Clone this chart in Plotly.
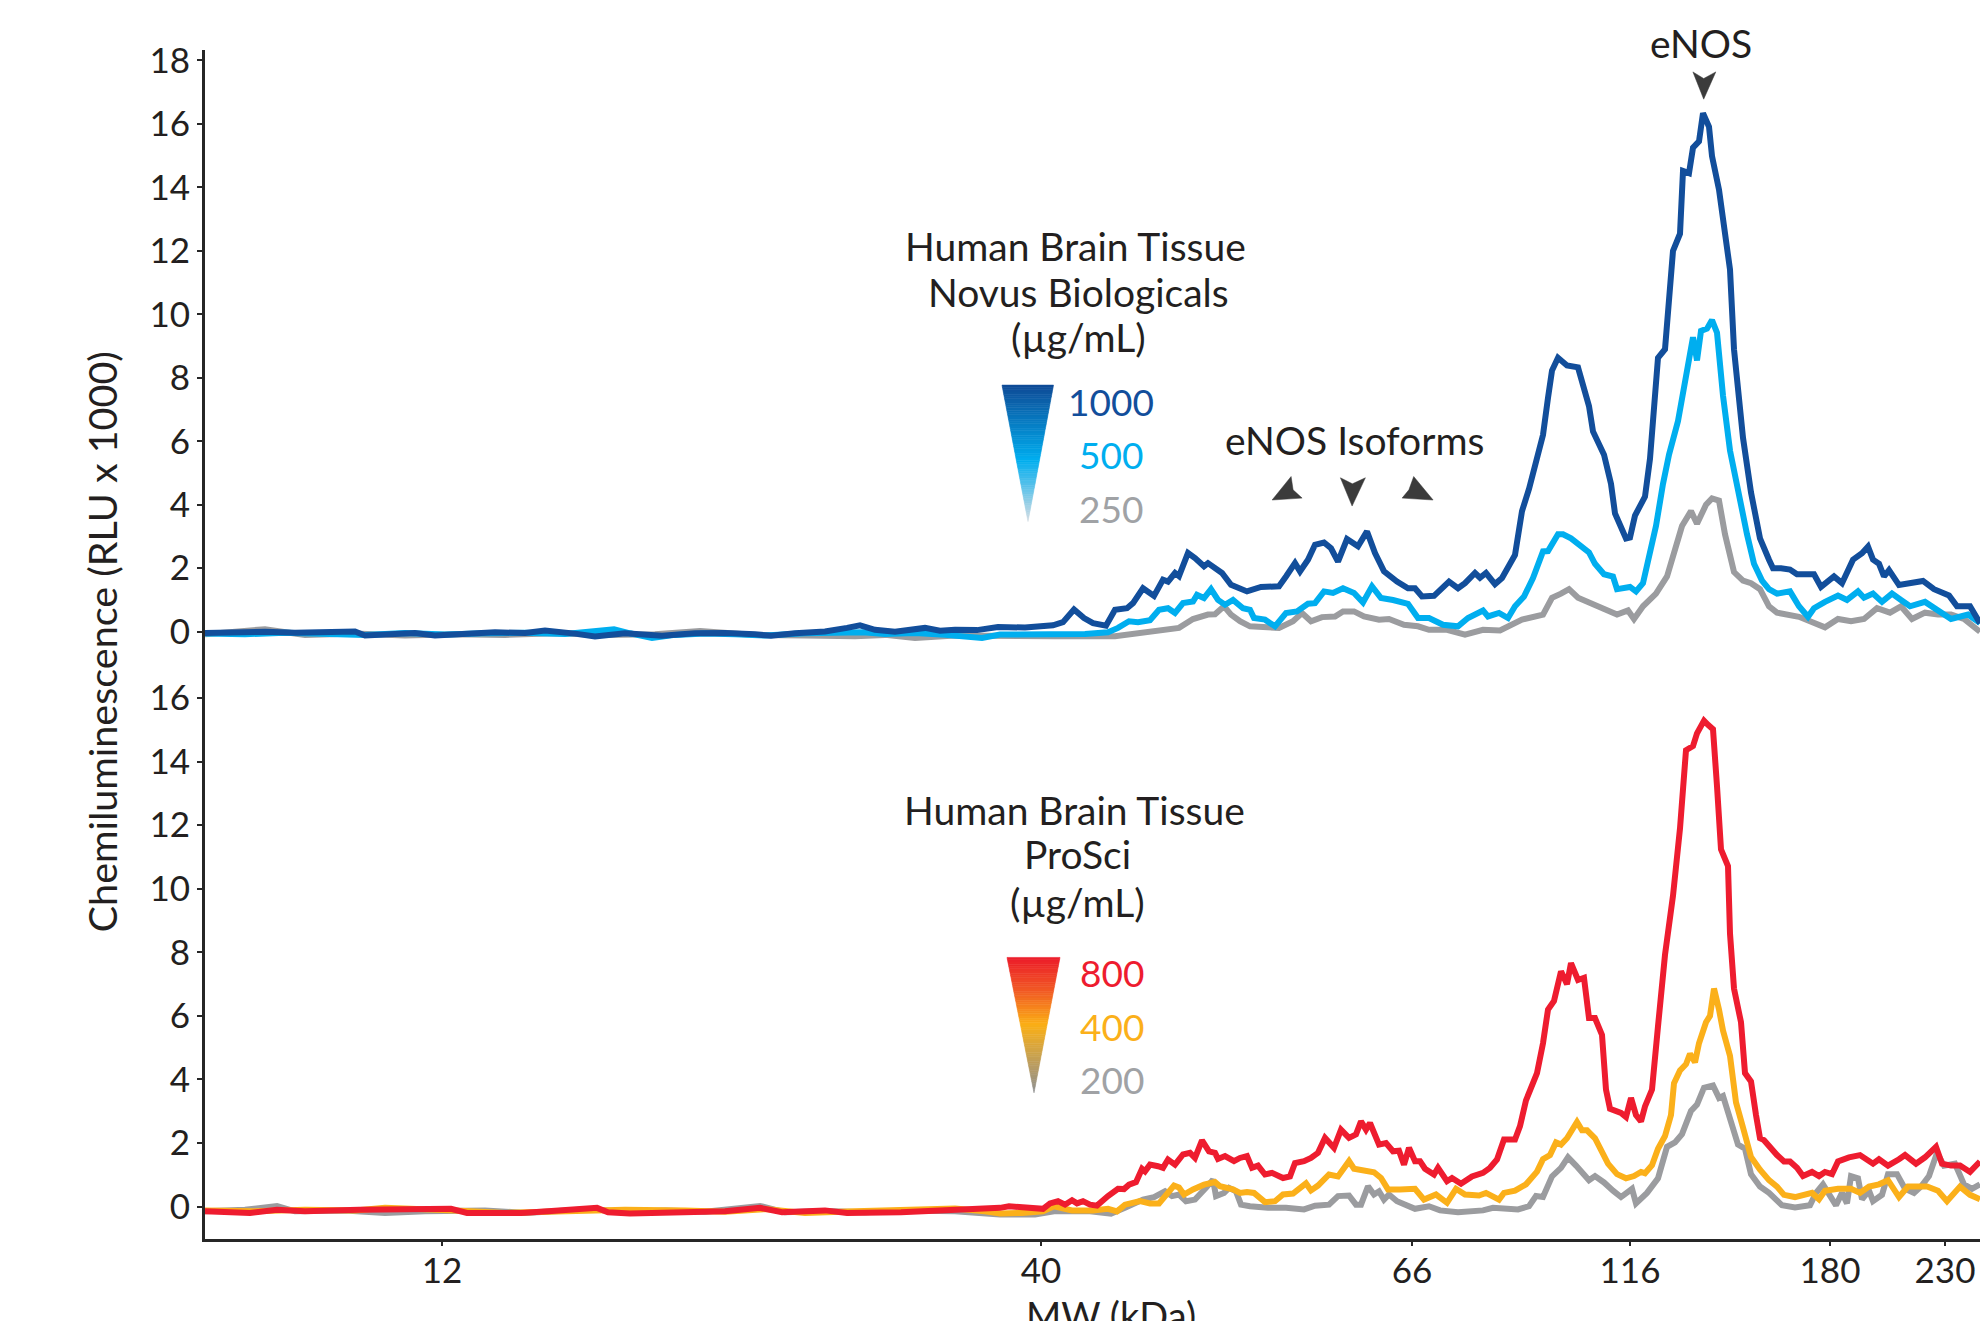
import plotly.graph_objects as go

# ---------------- data (position along capillary, signal in RLU x 1000) ----------------
tick_pos = [23.7, 83.6, 120.7, 142.5, 162.5, 174.0]
tick_lbl = ["12", "40", "66", "116", "180", "230"]

# Top panel: Novus Biologicals
nb1000_x = [0, 3, 6, 9, 12, 15, 16, 19, 21, 23, 26, 29, 32, 34, 37, 39, 42, 45.7, 49, 52, 55, 56.6, 59, 62,
            64.2, 65.5, 67, 69, 72, 73.5, 75, 77.2, 79.3, 82, 84.8, 85.8, 86.9, 87.9, 88.8, 90.1, 91.0, 92.2,
            92.8, 93.8, 94.9, 95.8, 96.3, 97.0, 97.4, 98.3, 99.0, 99.9, 100.3, 101.0, 101.7, 102.6, 104.2,
            105.6, 107.4, 108.1, 109.0, 109.5, 110.3, 111.0, 111.9, 112.6, 113.3, 114.2, 115.3, 116.2, 117.0,
            117.9, 119.2, 120.3, 121.0, 121.7, 122.9, 124.4, 125.3, 126.0, 127.0, 127.5, 128.1, 129.0, 129.7,
            131.0, 131.7, 132.4, 133.1, 133.8, 134.3, 134.7, 135.3, 136.2, 137.3, 138.4, 138.8, 139.9, 140.6,
            141.0, 142.1, 142.5, 143.0, 144.0, 144.5, 145.3, 146.0, 146.4, 146.8, 147.5, 147.8, 148.4, 148.8,
            149.4, 149.8, 150.4, 150.7, 151.4, 151.8, 152.5, 152.9, 153.8, 154.6, 155.5, 156.4, 156.8, 157.6,
            158.5, 159.2, 160.9, 161.6, 162.9, 163.7, 164.8, 165.7, 166.3, 166.8, 167.4, 167.9, 168.4, 169.4,
            170.7, 171.8, 172.9, 174.4, 175.2, 176.5, 177.5]
nb1000_y = [-0.04, -0.02, 0.0, -0.03, 0.0, 0.01, -0.12, -0.05, -0.04, -0.12, -0.05, -0.02, -0.04, 0.04, -0.06,
            -0.15, -0.05, -0.13, -0.05, -0.04, -0.08, -0.13, -0.05, 0.01, 0.12, 0.2, 0.06, 0.0, 0.12, 0.03, 0.06,
            0.05, 0.15, 0.13, 0.2, 0.3, 0.7, 0.43, 0.27, 0.19, 0.69, 0.74, 0.9, 1.37, 1.13, 1.64, 1.58, 1.85,
            1.75, 2.48, 2.32, 2.06, 2.16, 2.0, 1.85, 1.48, 1.27, 1.41, 1.43, 1.74, 2.16, 1.9, 2.27, 2.74, 2.81,
            2.63, 2.21, 2.92, 2.69, 3.16, 2.48, 1.9, 1.58, 1.37, 1.37, 1.11, 1.13, 1.58, 1.37, 1.53, 1.85, 1.7,
            1.85, 1.5, 1.69, 2.42, 3.8, 4.5, 5.3, 6.2, 7.37, 8.23, 8.63, 8.39, 8.33, 7.11, 6.31, 5.58, 4.66,
            3.73, 2.94, 2.97, 3.66, 4.26, 5.45, 8.63, 8.9, 10.62, 12.0, 12.54, 14.52, 14.45, 15.25, 15.45,
            16.34, 15.91, 14.99, 13.93, 13.0, 11.41, 8.9, 6.11, 4.39, 2.94, 2.27, 2.0, 2.0, 1.96, 1.81, 1.81,
            1.41, 1.74, 1.53, 2.27, 2.47, 2.68, 2.27, 2.14, 1.74, 1.94, 1.47, 1.53, 1.6, 1.34, 1.14, 0.8, 0.8,
            0.27]

nb500_x = [0, 4, 8, 12, 16, 20, 24, 28, 32, 36, 40.9, 42.5, 44.7, 47, 50, 53, 56, 60, 63, 65.8, 68, 71, 74,
           77.7, 79.5, 83, 86, 88, 90.3, 91.3, 92.4, 93.3, 94.5, 95.4, 96.3, 97.0, 97.8, 98.8, 99.2, 99.9,
           100.6, 101.3, 102.0, 102.8, 103.8, 104.5, 104.9, 106.0, 107.0, 108.1, 109.2, 110.3, 111.0, 111.9,
           112.8, 113.8, 114.9, 115.8, 116.7, 117.6, 118.8, 120.3, 121.3, 122.4, 123.8, 125.3, 126.3, 127.8,
           128.3, 129.4, 130.3, 131.0, 131.9, 132.8, 133.8, 134.3, 135.3, 135.8, 136.6, 137.7, 138.4, 139.0,
           139.9, 140.8, 141.2, 142.5, 143.1, 143.8, 144.2, 145.1, 145.8, 146.4, 147.3, 148.1, 148.8, 149.2,
           149.6, 150.2, 150.7, 151.2, 151.8, 152.5, 153.3, 154.2, 154.9, 155.7, 156.4, 157.2, 158.5, 159.4,
           160.3, 160.9, 162.0, 163.3, 164.2, 165.3, 165.9, 166.8, 167.7, 168.7, 169.6, 170.5, 172.0, 173.3,
           174.6, 176.3, 177.5]
nb500_y = [-0.06, -0.08, -0.03, -0.05, -0.1, -0.04, -0.09, -0.05, -0.03, -0.07, 0.08, -0.05, -0.2, -0.1,
           -0.06, -0.08, -0.12, -0.05, -0.03, -0.02, -0.07, -0.04, -0.1, -0.2, -0.09, -0.09, -0.08, -0.07,
           -0.02, 0.12, 0.33, 0.3, 0.36, 0.69, 0.74, 0.59, 0.9, 0.95, 1.16, 1.06, 1.34, 1.0, 0.85, 1.0, 0.74,
           0.69, 0.43, 0.38, 0.17, 0.59, 0.64, 0.88, 0.9, 1.27, 1.22, 1.37, 1.22, 0.92, 1.43, 1.06, 1.0, 0.88,
           0.43, 0.43, 0.22, 0.17, 0.43, 0.67, 0.48, 0.59, 0.43, 0.8, 1.11, 1.69, 2.53, 2.54, 3.07, 3.07, 2.94,
           2.67, 2.5, 2.14, 1.81, 1.74, 1.34, 1.41, 1.27, 1.53, 2.14, 3.33, 4.66, 5.58, 6.64, 7.96, 9.28, 8.55,
           9.48, 9.55, 9.82, 9.42, 7.44, 5.71, 4.39, 3.07, 2.14, 1.61, 1.34, 1.2, 1.27, 0.8, 0.47, 0.74, 0.94,
           1.14, 1.0, 1.27, 1.07, 1.2, 0.94, 1.2, 1.0, 0.8, 0.94, 0.67, 0.4, 0.54, 0.27]

nb250_x = [0, 6, 10, 15, 20, 25, 30, 35, 40, 45, 49.5, 55, 60, 65, 68, 71, 75, 79.5, 85, 91.0, 93.8, 95.5,
           97.4, 98.8, 100.3, 101.0, 101.9, 102.6, 103.5, 104.5, 106.0, 107.4, 108.8, 109.7, 110.6, 111.7,
           113.0, 113.8, 114.9, 115.9, 117.4, 118.4, 119.9, 121.3, 122.4, 124.2, 126.0, 127.8, 129.5, 131.7,
           133.8, 134.7, 135.6, 136.4, 137.3, 138.2, 139.5, 140.3, 141.2, 142.3, 142.9, 143.8, 145.1, 146.2,
           146.8, 147.7, 148.6, 149.2, 150.1, 150.7, 151.4, 152.0, 152.9, 153.8, 154.6, 155.5, 156.4, 157.2,
           159.4, 161.1, 162.0, 163.3, 164.6, 165.9, 167.2, 168.5, 169.6, 170.7, 172.0, 173.3, 174.6, 175.9,
           177.5]
nb250_y = [-0.08, 0.08, -0.1, -0.06, -0.12, -0.08, -0.1, -0.05, -0.1, -0.08, 0.02, -0.1, -0.12, -0.14, -0.1,
           -0.2, -0.12, -0.14, -0.14, -0.14, -0.04, 0.04, 0.12, 0.4, 0.54, 0.55, 0.8, 0.54, 0.33, 0.17, 0.15,
           0.12, 0.33, 0.59, 0.33, 0.46, 0.48, 0.64, 0.64, 0.48, 0.38, 0.4, 0.22, 0.17, 0.06, 0.06, -0.09, 0.06,
           0.04, 0.38, 0.54, 1.07, 1.2, 1.34, 1.07, 0.94, 0.8, 0.67, 0.54, 0.67, 0.4, 0.8, 1.2, 1.74, 2.41,
           3.33, 3.8, 3.4, 4.0, 4.2, 4.13, 3.07, 1.88, 1.61, 1.53, 1.34, 0.8, 0.6, 0.47, 0.27, 0.14, 0.4, 0.33,
           0.4, 0.74, 0.6, 0.8, 0.4, 0.6, 0.54, 0.54, 0.4, 0.0]

# Bottom panel: ProSci
ps800_x = [0, 4.5, 7.2, 10, 15.4, 20.8, 24.6, 26.2, 31.6, 34.3, 39.2, 40.3, 42.5, 47.9, 52, 55.5, 57.7, 62.0,
           64.2, 69.6, 75.0, 77.7, 79.5, 80.4, 81.7, 83.8, 84.5, 85.3, 86.0, 86.7, 87.2, 87.8, 88.5, 89.2, 90.3,
           91.3, 91.9, 92.4, 93.1, 93.7, 94.0, 94.5, 95.3, 95.8, 96.3, 97.0, 97.8, 98.5, 99.0, 99.7, 100.4,
           101.0, 101.3, 102.0, 102.9, 103.5, 104.2, 104.7, 105.3, 106.0, 106.7, 107.8, 108.5, 109.0, 109.9,
           110.6, 111.3, 112.0, 112.9, 113.6, 114.4, 115.1, 115.6, 116.1, 116.5, 117.4, 118.1, 118.8, 119.4,
           119.9, 120.4, 121.0, 121.5, 122.0, 122.9, 123.3, 124.2, 124.7, 125.6, 126.7, 127.8, 128.5, 129.2,
           129.9, 131.0, 131.5, 132.1, 133.2, 133.8, 134.3, 134.9, 135.6, 136.2, 136.6, 137.3, 137.9, 138.4,
           139.0, 139.7, 140.1, 140.5, 141.6, 142.1, 142.6, 143.1, 143.6, 144.0, 144.7, 145.3, 146.0, 146.8,
           147.5, 148.1, 148.8, 149.2, 149.9, 150.3, 150.8, 151.2, 151.6, 152.3, 152.5, 152.9, 153.6, 154.0,
           154.6, 155.1, 155.5, 155.9, 156.6, 157.2, 157.9, 158.5, 159.2, 159.8, 160.7, 161.4, 162.0, 162.7,
           163.3, 164.4, 165.5, 166.1, 166.8, 167.4, 168.3, 169.4, 170.0, 171.1, 172.0, 173.1, 173.7, 174.6,
           175.5, 176.5, 177.2, 177.5]
ps800_y = [-0.15, -0.2, -0.1, -0.15, -0.1, -0.1, -0.07, -0.2, -0.2, -0.15, -0.04, -0.18, -0.22, -0.18, -0.15,
           -0.04, -0.18, -0.12, -0.2, -0.18, -0.12, -0.1, -0.04, 0.01, -0.02, -0.07, 0.1, 0.17, 0.06, 0.2, 0.1,
           0.17, 0.06, 0.03, 0.33, 0.56, 0.55, 0.69, 0.77, 1.19, 1.11, 1.32, 1.27, 1.22, 1.48, 1.32, 1.64,
           1.69, 1.53, 2.08, 1.74, 1.69, 1.5, 1.59, 1.43, 1.53, 1.59, 1.22, 1.29, 1.01, 1.06, 0.9, 0.95, 1.37,
           1.43, 1.53, 1.69, 2.16, 1.85, 2.42, 2.16, 2.27, 2.68, 2.42, 2.63, 1.95, 2.0, 1.74, 1.76, 1.32, 1.85,
           1.43, 1.43, 1.19, 1.01, 1.22, 0.8, 0.9, 0.72, 0.95, 1.06, 1.22, 1.48, 2.11, 2.11, 2.53, 3.34, 4.2,
           5.14, 6.2, 6.47, 7.4, 7.0, 7.66, 7.13, 7.2, 5.93, 5.93, 5.4, 3.68, 3.08, 2.95, 2.82, 3.42, 2.88,
           2.68, 3.15, 3.68, 5.67, 7.92, 9.78, 11.9, 14.36, 14.49, 14.89, 15.29, 15.16, 15.02, 13.23, 11.24,
           10.71, 8.59, 6.86, 5.8, 4.2, 3.94, 2.88, 2.15, 2.09, 1.82, 1.62, 1.42, 1.42, 1.22, 0.96, 1.09, 0.96,
           1.09, 1.02, 1.42, 1.55, 1.62, 1.49, 1.35, 1.49, 1.29, 1.49, 1.62, 1.35, 1.55, 1.88, 1.35, 1.29, 1.29,
           1.09, 1.35, 1.42]

ps400_x = [0, 5, 10, 15, 18, 20, 25, 30, 33, 38, 42, 48, 52, 56, 60, 65, 70, 75, 78, 79.5, 81.7, 83.8, 84.9,
           86.7, 88.8, 90.3, 91.2, 92.0, 93.5, 94.5, 95.4, 96.3, 96.9, 97.4, 97.9, 98.8, 99.9, 101.0, 101.5,
           102.8, 103.5, 104.2, 104.9, 106.0, 107.0, 107.8, 108.8, 110.1, 110.6, 111.3, 112.4, 113.3, 114.4,
           114.9, 116.0, 116.9, 117.6, 118.3, 119.5, 121.0, 121.9, 123.1, 124.2, 125.1, 126.0, 127.4, 128.1,
           129.4, 129.9, 131.0, 132.1, 133.2, 133.8, 134.5, 135.1, 135.6, 136.2, 137.2, 137.7, 138.2, 139.0,
           139.7, 140.3, 141.2, 142.1, 142.9, 143.6, 144.0, 144.7, 145.3, 146.0, 146.6, 146.9, 147.5, 148.1,
           148.5, 149.0, 149.4, 150.1, 150.5, 150.9, 151.4, 151.8, 152.5, 153.1, 153.8, 154.6, 155.5, 156.4,
           157.2, 157.9, 159.0, 160.1, 160.7, 161.4, 162.0, 163.3, 164.6, 165.5, 166.4, 167.4, 168.3, 169.4,
           170.3, 171.1, 172.2, 173.3, 174.2, 175.5, 176.5, 177.5]
ps400_y = [-0.12, -0.15, -0.1, -0.12, -0.04, -0.05, -0.12, -0.2, -0.18, -0.12, -0.1, -0.12, -0.16, -0.08,
           -0.2, -0.15, -0.12, -0.06, -0.15, -0.22, -0.2, -0.15, 0.01, -0.12, -0.12, -0.07, -0.15, 0.06, 0.17,
           0.1, 0.1, 0.43, 0.66, 0.6, 0.38, 0.54, 0.69, 0.77, 0.64, 0.54, 0.43, 0.46, 0.43, 0.14, 0.17, 0.38,
           0.41, 0.73, 0.51, 0.66, 1.01, 0.95, 1.43, 1.19, 1.11, 1.08, 0.9, 0.54, 0.54, 0.56, 0.22, 0.38, 0.12,
           0.56, 0.38, 0.35, 0.43, 0.22, 0.43, 0.5, 0.7, 1.1, 1.49, 1.62, 2.02, 1.95, 2.15, 2.66, 2.4, 2.4, 2.15,
           1.75, 1.35, 1.02, 0.89, 0.96, 1.09, 1.05, 1.3, 1.82, 2.22, 2.88, 3.88, 4.28, 4.48, 4.81, 4.54, 5.14,
           5.8, 6.0, 6.86, 6.2, 5.54, 4.74, 3.28, 2.49, 1.56, 1.16, 0.83, 0.63, 0.37, 0.3, 0.37, 0.43, 0.23,
           0.5, 0.56, 0.56, 0.43, 0.63, 0.7, 0.83, 0.3, 0.63, 0.63, 0.63, 0.5, 0.17, 0.63, 0.37, 0.23]

ps200_x = [0, 4, 7.2, 9, 14, 18, 22, 28, 32, 36, 38.6, 42, 46, 50, 55.5, 58, 62, 66, 70, 75, 79.5, 83, 84.9,
           88.5, 90.6, 92.0, 93.8, 94.9, 96.0, 96.7, 97.4, 98.1, 99.0, 100.1, 100.8, 101.1, 101.9, 102.4,
           103.1, 103.6, 104.5, 106.3, 108.1, 109.9, 111.0, 112.4, 113.3, 114.4, 115.1, 115.6, 116.3, 116.9,
           117.4, 117.9, 118.4, 119.2, 119.9, 121.0, 122.4, 123.5, 125.3, 127.8, 128.8, 131.3, 132.4, 133.1,
           133.8, 134.7, 135.6, 136.3, 137.1, 137.7, 138.4, 139.0, 139.9, 140.8, 141.6, 142.7, 143.1, 144.2,
           145.3, 146.2, 147.0, 147.7, 148.6, 149.2, 149.9, 150.8, 151.4, 151.8, 152.5, 153.3, 154.0, 154.6,
           155.5, 156.4, 157.7, 159.0, 160.5, 161.1, 161.8, 162.4, 163.1, 163.7, 164.2, 164.6, 165.3, 165.7,
           166.4, 166.8, 167.7, 168.3, 169.2, 170.0, 170.9, 171.6, 172.4, 173.2, 173.9, 175.0, 175.9, 176.7,
           177.5]
ps200_y = [-0.15, -0.1, 0.02, -0.15, -0.12, -0.2, -0.15, -0.12, -0.2, -0.1, -0.08, -0.18, -0.12, -0.16, 0.02,
           -0.18, -0.14, -0.18, -0.12, -0.15, -0.25, -0.25, -0.15, -0.15, -0.22, -0.04, 0.22, 0.3, 0.48, 0.33,
           0.38, 0.17, 0.22, 0.59, 0.85, 0.33, 0.43, 0.59, 0.48, 0.06, 0.01, -0.04, -0.04, -0.09, 0.03, 0.06,
           0.33, 0.35, 0.06, 0.06, 0.64, 0.38, 0.48, 0.22, 0.38, 0.17, 0.06, -0.07, 0.01, -0.12, -0.18, -0.12,
           -0.04, -0.09, 0.01, 0.33, 0.3, 0.95, 1.22, 1.55, 1.29, 1.09, 0.83, 0.96, 0.76, 0.5, 0.3, 0.56, 0.1,
           0.43, 0.89, 1.88, 2.02, 2.28, 3.01, 3.21, 3.74, 3.81, 3.42, 3.48, 2.82, 1.95, 1.82, 1.02, 0.63, 0.43,
           0.04, -0.03, 0.04, 0.43, 0.7, 0.37, 0.04, 0.43, 0.1, 0.96, 0.89, 0.23, 0.5, 0.17, 0.37, 1.02, 1.02,
           0.56, 0.43, 0.63, 0.96, 1.69, 1.29, 1.35, 0.7, 0.56, 0.7]

top_conc = ["1000", "500", "250"]
bot_conc = ["800", "400", "200"]

# ---------------- styling ----------------
FONT = "Lato, 'Noto Sans', sans-serif"
TXT = "#231f20"
C_DKBLUE = "#124e9b"
C_CYAN = "#00aeef"
C_GRAY = "#9b9c9f"
C_RED = "#ee1c2f"
C_ORANGE = "#fbb01a"
LW = 6

fig = go.Figure()

# top panel (x2, y2): draw lower concentration first
for xs, ys, col in [(nb250_x, nb250_y, C_GRAY), (nb500_x, nb500_y, C_CYAN), (nb1000_x, nb1000_y, C_DKBLUE)]:
    fig.add_trace(go.Scatter(x=xs, y=ys, mode="lines", line=dict(color=col, width=LW),
                             xaxis="x2", yaxis="y2", hoverinfo="skip"))
# bottom panel (x, y)
for xs, ys, col in [(ps200_x, ps200_y, C_GRAY), (ps400_x, ps400_y, C_ORANGE), (ps800_x, ps800_y, C_RED)]:
    fig.add_trace(go.Scatter(x=xs, y=ys, mode="lines", line=dict(color=col, width=LW),
                             xaxis="x", yaxis="y", hoverinfo="skip"))


def hex2rgb(h):
    h = h.lstrip("#")
    return tuple(int(h[i:i + 2], 16) for i in (0, 2, 4))


def interp(stops, t):
    for (t0, c0), (t1, c1) in zip(stops[:-1], stops[1:]):
        if t0 <= t <= t1:
            f = 0 if t1 == t0 else (t - t0) / (t1 - t0)
            a, b = hex2rgb(c0), hex2rgb(c1)
            return "rgb(%d,%d,%d)" % tuple(round(a[i] + (b[i] - a[i]) * f) for i in range(3))
    return stops[-1][1]


shapes = []


def gradient_triangle(xl, xr, ytop, xap, yap, stops, xref, yref, n=60):
    xc = (xl + xr) / 2
    hw = (xr - xl) / 2
    for i in range(n):
        t0, t1 = i / n, (i + 1) / n
        y0 = ytop + (yap - ytop) * t0
        y1 = ytop + (yap - ytop) * t1
        c0 = xc + (xap - xc) * t0
        c1 = xc + (xap - xc) * t1
        w0 = hw * (1 - t0)
        w1 = hw * (1 - t1)
        col = interp(stops, (t0 + t1) / 2)
        path = "M %.3f %.4f L %.3f %.4f L %.3f %.4f L %.3f %.4f Z" % (
            c0 - w0, y0, c0 + w0, y0, c1 + w1, y1, c1 - w1, y1)
        shapes.append(dict(type="path", path=path, xref=xref, yref=yref, fillcolor=col,
                           line=dict(color=col, width=0.6), layer="above"))


gradient_triangle(79.7, 84.85, 7.77, 82.3, 3.47,
                  [(0, "#0f4a96"), (0.55, "#00aeef"), (1, "#d5dde3")], "x2", "y2")
gradient_triangle(80.2, 85.5, 7.84, 82.9, 3.58,
                  [(0, "#ec1c2b"), (0.25, "#f15a24"), (0.5, "#fbb016"), (1, "#8e9093")], "x", "y")


def arrow(pts, xref, yref):
    path = "M " + " L ".join("%.2f %.3f" % p for p in pts) + " Z"
    shapes.append(dict(type="path", path=path, xref=xref, yref=yref, fillcolor="#3b3b3b",
                       line=dict(color="#3b3b3b", width=0.5), layer="above"))


# eNOS and isoform arrowheads (tip, barb, notch, barb)
arrow([(149.87, 16.78), (148.79, 17.64), (149.87, 17.43), (151.08, 17.64)], "x2", "y2")
arrow([(106.71, 4.15), (108.61, 4.89), (108.81, 4.47), (109.71, 4.21)], "x2", "y2")
arrow([(114.71, 3.96), (113.54, 4.85), (114.74, 4.66), (116.04, 4.85)], "x2", "y2")
arrow([(122.81, 4.15), (120.87, 4.89), (120.39, 4.47), (119.71, 4.21)], "x2", "y2")

annotations = []


def txt(x, y, s, xref, yref, size=39, color=TXT, **kw):
    annotations.append(dict(x=x, y=y, text=s, xref=xref, yref=yref, showarrow=False,
                            font=dict(family=FONT, size=size, color=color),
                            xanchor=kw.get("xanchor", "center"), yanchor=kw.get("yanchor", "middle"),
                            textangle=kw.get("textangle", 0)))


# top legend block
txt(87.0, 12.14, "Human Brain Tissue", "x2", "y2")
txt(87.3, 10.71, "Novus Biologicals", "x2", "y2")
txt(87.3, 9.28, "(µg/mL)", "x2", "y2")
for lab, yv, col in zip(top_conc, [7.25, 5.57, 3.89], [C_DKBLUE, C_CYAN, "#a0a2a5"]):
    txt(90.6, yv, lab, "x2", "y2", size=37, color=col)
txt(114.9, 6.03, "eNOS Isoforms", "x2", "y2")
txt(0.8428, 1.0059, "eNOS", "paper", "paper")

# bottom legend block
txt(86.9, 12.49, "Human Brain Tissue", "x", "y")
txt(87.2, 11.08, "ProSci", "x", "y")
txt(87.2, 9.57, "(µg/mL)", "x", "y")
for lab, yv, col in zip(bot_conc, [7.35, 5.67, 4.0], [C_RED, C_ORANGE, "#a0a2a5"]):
    txt(90.7, yv, lab, "x", "y", size=37, color=col)

# axis titles
txt(-0.0586, 0.5027, "Chemiluminescence (RLU x 1000)", "paper", "paper", size=39.5, textangle=-90)
txt(0.5104, -0.0635, "MW (kDa)", "paper", "paper", size=38)

AX = "#262626"
yax_common = dict(showline=True, linecolor=AX, linewidth=3, ticks="outside", ticklen=5, tickwidth=2,
                  tickcolor=AX, showgrid=False, zeroline=False, dtick=2,
                  tickfont=dict(family=FONT, size=35, color=TXT))

SPLIT = 0.483
fig.update_layout(
    width=1980, height=1321,
    margin=dict(l=205, r=0, t=50, b=81.5, pad=0),
    paper_bgcolor="white", plot_bgcolor="white", showlegend=False,
    font=dict(family=FONT, color=TXT),
    xaxis=dict(domain=[0, 1], range=[0, 177.5], anchor="y", showline=True, linecolor=AX, linewidth=3,
               ticks="outside", ticklen=4, tickwidth=2, tickcolor=AX, showgrid=False, zeroline=False,
               tickmode="array", tickvals=tick_pos, ticktext=tick_lbl, ticklabelstandoff=-5,
               tickfont=dict(family=FONT, size=35, color=TXT)),
    xaxis2=dict(domain=[0, 1], range=[0, 177.5], anchor="y2", matches="x", visible=False),
    yaxis=dict(domain=[0, SPLIT], range=[-1.02, 17.05], anchor="x", tick0=0, **yax_common),
    yaxis2=dict(domain=[SPLIT, 1], range=[-1.04, 18.33], anchor="x2", tick0=0, **yax_common),
    shapes=shapes,
    annotations=annotations,
)

fig.write_html("out.html")
